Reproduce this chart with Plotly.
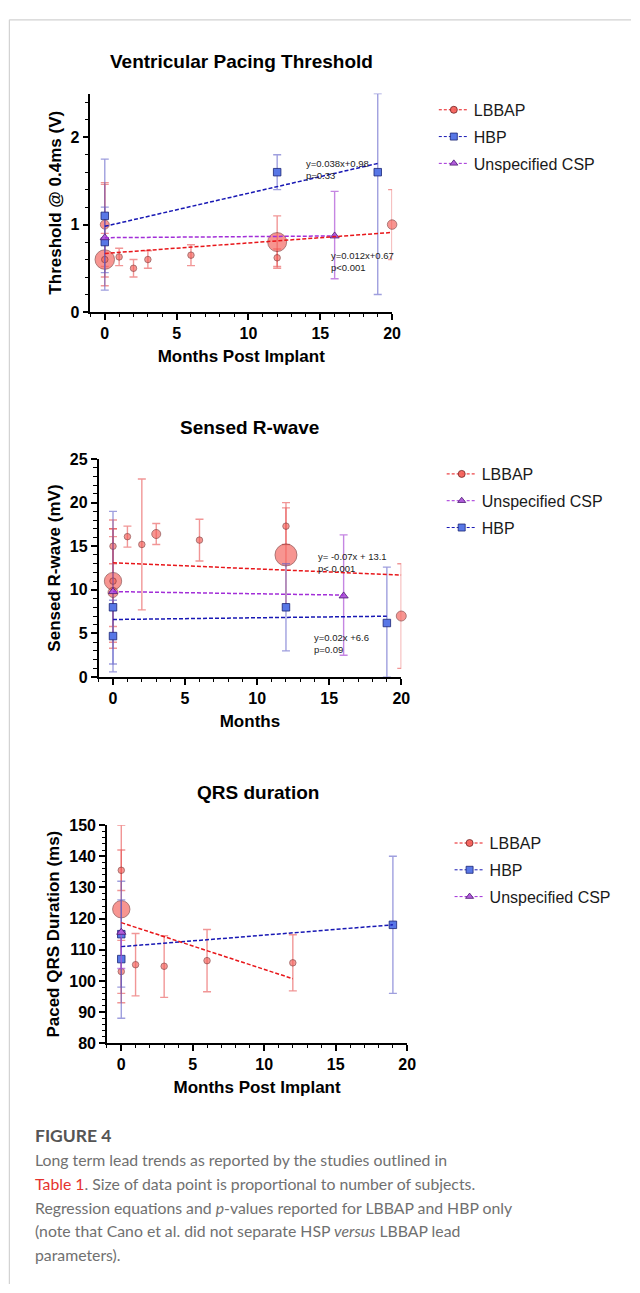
import plotly.graph_objects as go

W, H = 640, 1293

# ---------------- Panel 1: Ventricular Pacing Threshold ----------------
thr_lbbap_x = [0, 0, 0, 1, 2, 3, 6, 12, 12, 20]
thr_lbbap_y = [1.0, 0.6, 0.6, 0.63, 0.5, 0.6, 0.65, 0.8, 0.62, 1.0]
thr_lbbap_lo = [0.52, 0.3, 0.4, 0.53, 0.4, 0.5, 0.53, 0.5, 0.52, 0.6]
thr_lbbap_hi = [1.48, 0.9, 1.46, 0.73, 0.6, 0.7, 0.77, 1.1, 0.72, 1.4]
thr_lbbap_n = [54, 117, 39, 39, 39, 39, 39, 114, 39, 57]   # estimated subjects

thr_hbp_x = [0, 0, 12, 19]
thr_hbp_y = [1.1, 0.8, 1.6, 1.6]
thr_hbp_lo = [0.45, 0.25, 1.4, 0.2]
thr_hbp_hi = [1.75, 1.2, 1.8, 2.5]

thr_csp_x = [0, 16]
thr_csp_y = [0.85, 0.87]
thr_csp_lo = [0.85, 0.38]
thr_csp_hi = [0.85, 1.38]

thr_fit_lbbap_x, thr_fit_lbbap_y = [0, 20], [0.67, 0.91]
thr_fit_hbp_x, thr_fit_hbp_y = [0, 19], [0.98, 1.70]
thr_fit_csp_x, thr_fit_csp_y = [0, 16], [0.85, 0.87]

# ---------------- Panel 2: Sensed R-wave ----------------
rw_lbbap_x = [0, 0, 0, 0, 1, 2, 3, 6, 12, 12, 20]
rw_lbbap_y = [15, 11, 11, 9.7, 16.1, 15.2, 16.4, 15.7, 17.3, 14, 7]
rw_lbbap_lo = [13, 3.3, 4, 5.8, 14.9, 7.7, 15.2, 13.3, 15.2, 8, 1]
rw_lbbap_hi = [17, 18, 17, 16.1, 17.3, 22.7, 17.6, 18.1, 19.4, 20, 13]
rw_lbbap_n = [39, 104, 39, 60, 39, 39, 54, 39, 39, 132, 60]

rw_hbp_x = [0, 0, 12, 19]
rw_hbp_y = [8, 4.7, 8, 6.2]
rw_hbp_lo = [1.5, 0.6, 3, 0]
rw_hbp_hi = [19, 8.8, 13, 12.6]

rw_csp_x = [0, 16]
rw_csp_y = [9.8, 9.3]
rw_csp_lo = [9.8, 2.5]
rw_csp_hi = [9.8, 16.3]

rw_fit_lbbap_x, rw_fit_lbbap_y = [0, 20], [13.1, 11.7]
rw_fit_csp_x, rw_fit_csp_y = [0, 16], [9.8, 9.4]
rw_fit_hbp_x, rw_fit_hbp_y = [0, 19], [6.6, 6.98]

# ---------------- Panel 3: QRS duration ----------------
qrs_lbbap_x = [0, 0, 0, 1, 3, 6, 12]
qrs_lbbap_y = [135.5, 123, 103, 105.2, 104.7, 106.5, 105.8]
qrs_lbbap_lo = [129, 96, 93, 95.2, 94.7, 96.5, 96.8]
qrs_lbbap_hi = [142, 150, 113, 115.2, 114.5, 116.5, 114.8]
qrs_lbbap_n = [39, 104, 39, 39, 39, 39, 39]

qrs_hbp_x = [0, 0, 19]
qrs_hbp_y = [115, 107, 118]
qrs_hbp_lo = [98, 88, 96]
qrs_hbp_hi = [132, 126, 140]

qrs_csp_x = [0]
qrs_csp_y = [115.6]
qrs_csp_lo = [104]
qrs_csp_hi = [115.6]

qrs_fit_lbbap_x, qrs_fit_lbbap_y = [0, 12], [118.7, 100.7]
qrs_fit_hbp_x, qrs_fit_hbp_y = [0, 19], [111, 118]

# ---------------- styles ----------------
RED_FILL, RED_EDGE, RED_ERR, RED_LINE = "rgba(244,92,86,0.92)", "#6e2424", "rgba(232,80,80,0.6)", "#e8161a"
BLU_FILL, BLU_EDGE, BLU_ERR, BLU_LINE = "#5877e6", "#1b2575", "rgba(95,95,200,0.6)", "#1818b4"
PUR_FILL, PUR_EDGE, PUR_ERR, PUR_LINE = "#b15cdb", "#4a1870", "rgba(172,82,214,0.7)", "#a22ed8"
AX_FONT = "Liberation Sans, Arial, sans-serif"
DASH = "4px,2px"
SIZEREF = 6


def err(y, lo, hi, color):
    return dict(type="data", symmetric=False,
                array=[h - v for v, h in zip(y, hi)],
                arrayminus=[v - l for v, l in zip(y, lo)],
                color=color, thickness=1.4, width=4)


fig = go.Figure()


def add_panel(ax, leg, lb, hb, cs, fits, order):
    xa, ya = "x" + ax, "y" + ax
    lx, ly, llo, lhi, ln = lb
    fig.add_trace(go.Scatter(x=lx, y=ly, mode="markers", xaxis=xa, yaxis=ya, showlegend=False,
                             cliponaxis=False, error_y=err(ly, llo, lhi, RED_ERR),
                             marker=dict(symbol="circle", size=ln, sizemode="diameter", sizeref=SIZEREF,
                                         color=RED_FILL, line=dict(color=RED_EDGE, width=0.8))))
    hx, hy, hlo, hhi = hb
    fig.add_trace(go.Scatter(x=hx, y=hy, mode="markers", xaxis=xa, yaxis=ya, showlegend=False,
                             cliponaxis=False, error_y=err(hy, hlo, hhi, BLU_ERR),
                             marker=dict(symbol="square", size=7.5, color=BLU_FILL,
                                         line=dict(color=BLU_EDGE, width=0.8))))
    cx, cy, clo, chi = cs
    fig.add_trace(go.Scatter(x=cx, y=cy, mode="markers", xaxis=xa, yaxis=ya, showlegend=False,
                             cliponaxis=False, error_y=err(cy, clo, chi, PUR_ERR),
                             marker=dict(symbol="triangle-up", size=8, color=PUR_FILL,
                                         line=dict(color=PUR_EDGE, width=0.8))))
    colors = {"LBBAP": RED_LINE, "HBP": BLU_LINE, "Unspecified CSP": PUR_LINE}
    for name, (fx, fy) in fits.items():
        fig.add_trace(go.Scatter(x=fx, y=fy, mode="lines", xaxis=xa, yaxis=ya, showlegend=False,
                                 cliponaxis=False, line=dict(color=colors[name], width=1.5, dash=DASH)))
    legend_style = {
        "LBBAP": ("circle", RED_FILL, RED_EDGE, RED_LINE),
        "HBP": ("square", BLU_FILL, BLU_EDGE, BLU_LINE),
        "Unspecified CSP": ("triangle-up", PUR_FILL, PUR_EDGE, PUR_LINE),
    }
    for name in order:
        sym, fill, edge, lc = legend_style[name]
        fig.add_trace(go.Scatter(x=[None], y=[None], mode="lines+markers", name=name, xaxis=xa, yaxis=ya,
                                 legend=leg, legendgroup=leg + name, showlegend=True,
                                 line=dict(color=lc, width=1, dash="3px,2px"),
                                 marker=dict(symbol=sym, size=7, color=fill, line=dict(color=edge, width=0.8))))


add_panel("", "legend",
          (thr_lbbap_x, thr_lbbap_y, thr_lbbap_lo, thr_lbbap_hi, thr_lbbap_n),
          (thr_hbp_x, thr_hbp_y, thr_hbp_lo, thr_hbp_hi),
          (thr_csp_x, thr_csp_y, thr_csp_lo, thr_csp_hi),
          {"HBP": (thr_fit_hbp_x, thr_fit_hbp_y), "Unspecified CSP": (thr_fit_csp_x, thr_fit_csp_y),
           "LBBAP": (thr_fit_lbbap_x, thr_fit_lbbap_y)},
          ["LBBAP", "HBP", "Unspecified CSP"])
add_panel("2", "legend2",
          (rw_lbbap_x, rw_lbbap_y, rw_lbbap_lo, rw_lbbap_hi, rw_lbbap_n),
          (rw_hbp_x, rw_hbp_y, rw_hbp_lo, rw_hbp_hi),
          (rw_csp_x, rw_csp_y, rw_csp_lo, rw_csp_hi),
          {"HBP": (rw_fit_hbp_x, rw_fit_hbp_y), "Unspecified CSP": (rw_fit_csp_x, rw_fit_csp_y),
           "LBBAP": (rw_fit_lbbap_x, rw_fit_lbbap_y)},
          ["LBBAP", "Unspecified CSP", "HBP"])
add_panel("3", "legend3",
          (qrs_lbbap_x, qrs_lbbap_y, qrs_lbbap_lo, qrs_lbbap_hi, qrs_lbbap_n),
          (qrs_hbp_x, qrs_hbp_y, qrs_hbp_lo, qrs_hbp_hi),
          (qrs_csp_x, qrs_csp_y, qrs_csp_lo, qrs_csp_hi),
          {"HBP": (qrs_fit_hbp_x, qrs_fit_hbp_y), "LBBAP": (qrs_fit_lbbap_x, qrs_fit_lbbap_y)},
          ["LBBAP", "HBP", "Unspecified CSP"])


def xdom(a, b):
    return [a / W, b / W]


def ydom(top, bottom):
    return [1 - bottom / H, 1 - top / H]


def xaxis(dom, anchor, title):
    return dict(domain=dom, anchor=anchor, range=[-1, 20], tickmode="linear", tick0=0, dtick=5,
                showline=True, linecolor="black", linewidth=1.5, ticks="outside", ticklen=6,
                tickwidth=1.5, tickcolor="black", showgrid=False, zeroline=False,
                minor=dict(ticks="outside", ticklen=3.5, tickwidth=1.2, tickcolor="black", dtick=1, tick0=0),
                tickfont=dict(family=AX_FONT, size=16, color="black", weight="bold"),
                title=dict(text=title, standoff=9,
                           font=dict(family=AX_FONT, size=17, color="black", weight="bold")))


def yaxis(dom, anchor, rng, dt, mdt, title, standoff):
    return dict(domain=dom, anchor=anchor, range=rng, tickmode="linear", tick0=rng[0], dtick=dt,
                showline=True, linecolor="black", linewidth=1.5, ticks="outside", ticklen=6,
                tickwidth=1.5, tickcolor="black", showgrid=False, zeroline=False,
                minor=dict(ticks="outside", ticklen=3.5, tickwidth=1.2, tickcolor="black", dtick=mdt),
                tickfont=dict(family=AX_FONT, size=16, color="black", weight="bold"),
                title=dict(text=title, standoff=standoff,
                           font=dict(family=AX_FONT, size=17, color="black", weight="bold")))


legend_common = dict(font=dict(family=AX_FONT, size=16, color="#1a1a1a"), bgcolor="rgba(0,0,0,0)",
                     xanchor="left", yanchor="top", tracegroupgap=3)

fig.update_layout(
    width=W, height=H, margin=dict(l=0, r=0, t=0, b=0),
    paper_bgcolor="white", plot_bgcolor="white",
    xaxis=xaxis(xdom(91.7, 397.7), "y", "Months Post Implant"),
    yaxis=yaxis(ydom(86.7, 308), "x", [0, 2.5], 1, 0.2, "Threshold @ 0.4ms (V)", 5),
    xaxis2=xaxis(xdom(100, 407), "y2", "Months"),
    yaxis2=yaxis(ydom(457, 678), "x2", [0, 25], 5, 1, "Sensed R-wave (mV)", 5),
    xaxis3=xaxis(xdom(108.5, 413), "y3", "Months Post Implant"),
    yaxis3=yaxis(ydom(828, 1049), "x3", [80, 150], 10, 2, "Paced QRS Duration (ms)", 5),
    legend=dict(x=440 / W, y=1 - 86 / H, **legend_common),
    legend2=dict(x=448 / W, y=1 - 455 / H, **legend_common),
    legend3=dict(x=456 / W, y=1 - 829 / H, **legend_common),
    showlegend=True,
)

ann = []
# panel titles
for text, cx, cy in [("Ventricular Pacing Threshold", 245, 54), ("Sensed R-wave", 253, 425), ("QRS duration", 262, 795)]:
    ann.append(dict(text=text, x=cx / W, y=1 - cy / H, xref="paper", yref="paper", showarrow=False,
                    xanchor="center", yanchor="middle",
                    font=dict(family=AX_FONT, size=19, color="black", weight="bold")))

# regression labels
reg_font = dict(family=AX_FONT, size=9.5, color="#222")
for text, x, y, xr, yr in [
    ("y=0.038x+0.98<br>p=0.33", 13.9, 1.79, "x", "y"),
    ("y=0.012x+0.67<br>p&lt;0.001", 15.6, 0.73, "x", "y"),
    ("y= -0.07x + 13.1<br>p&lt; 0.001", 14.05, 14.7, "x2", "y2"),
    ("y=0.02x +6.6<br>p=0.09", 13.8, 5.43, "x2", "y2"),
]:
    ann.append(dict(text=text, x=x, y=y, xref=xr, yref=yr, showarrow=False, xanchor="left",
                    yanchor="top", align="left", font=reg_font))

# caption
CAP_FONT = "Lato, Open Sans, sans-serif"
ann.append(dict(text="<b>FIGURE 4</b>", x=33 / W, y=1 - 1143 / H, xref="paper", yref="paper",
                showarrow=False, xanchor="left", yanchor="middle",
                font=dict(family=CAP_FONT, size=17.5, color="#555")))
cap_lines = [
    "Long term lead trends as reported by the studies outlined in",
    "<span style='color:#e5322d'>Table 1</span>. Size of data point is proportional to number of subjects.",
    "Regression equations and <i>p</i>-values reported for LBBAP and HBP only",
    "(note that Cano et al. did not separate HSP <i>versus</i> LBBAP lead",
    "parameters).",
]
for i, line in enumerate(cap_lines):
    ann.append(dict(text=line, x=33 / W, y=1 - (1167 + 24 * i) / H, xref="paper", yref="paper",
                    showarrow=False, xanchor="left", yanchor="middle",
                    font=dict(family=CAP_FONT, size=15.8, color="#707070")))
fig.update_layout(annotations=ann)

# card border
fig.update_layout(shapes=[
    dict(type="line", xref="paper", yref="paper", x0=9.5 / W, x1=1, y0=1 - 12 / H, y1=1 - 12 / H,
         line=dict(color="#d2d2d2", width=1.2)),
    dict(type="line", xref="paper", yref="paper", x0=9.5 / W, x1=9.5 / W, y0=0, y1=1 - 12 / H,
         line=dict(color="#d2d2d2", width=1.2)),
])

post = (
    "document.documentElement.style.margin='0';document.documentElement.style.padding='0';"
    "document.documentElement.style.overflow='hidden';"
    "document.body.style.margin='0';document.body.style.padding='0';document.body.style.overflow='hidden';"
    "var gd=document.getElementById('{plot_id}');gd.style.position='absolute';gd.style.top='0';gd.style.left='0';"
)
fig.write_html("out.html", config={"displayModeBar": False}, post_script=post)
